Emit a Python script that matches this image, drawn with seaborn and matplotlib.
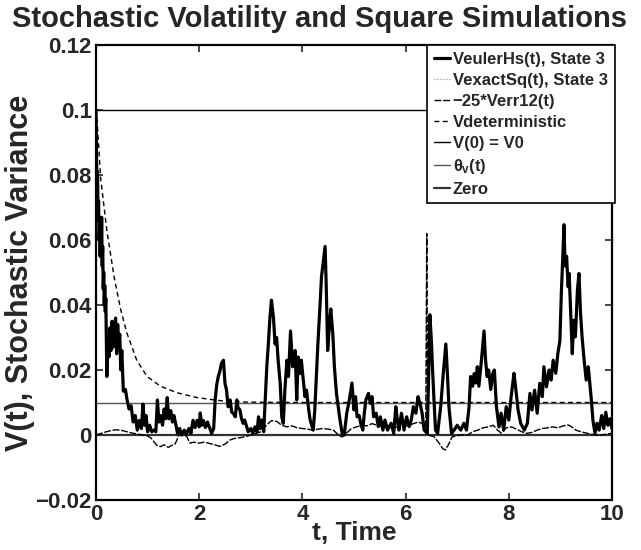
import numpy as np
import pandas as pd
import matplotlib
matplotlib.use('Agg')
import matplotlib.pyplot as plt
import seaborn as sns

#======================================================================================
# Data
# VeulerHs / VexactSq path (State 3)
tPath = [0.00, 0.01, 0.02, 0.03, 0.04, 0.05, 0.06, 0.07, 0.08, 0.09, 0.10, 0.11, 0.12, 0.13,
         0.14, 0.15, 0.16, 0.17, 0.18, 0.19, 0.21, 0.23, 0.25, 0.27, 0.29, 0.31, 0.33, 0.35,
         0.38, 0.40, 0.42, 0.44, 0.46, 0.48, 0.50, 0.53, 0.57, 0.60, 0.64, 0.68, 0.72, 0.76,
         0.80, 0.84, 0.88, 0.91, 0.94, 0.97, 1.00, 1.04, 1.08, 1.12, 1.16, 1.19, 1.22, 1.25,
         1.29, 1.32, 1.35, 1.38, 1.41, 1.45, 1.48, 1.51, 1.55, 1.58, 1.62, 1.66, 1.71, 1.75,
         1.80, 1.84, 1.88, 1.92, 1.96, 2.00, 2.02, 2.05, 2.08, 2.12, 2.16, 2.20, 2.24, 2.28,
         2.31, 2.34, 2.37, 2.40, 2.43, 2.47, 2.50, 2.53, 2.56, 2.60, 2.63, 2.66, 2.70, 2.73,
         2.75, 2.79, 2.82, 2.85, 2.88, 2.92, 2.95, 3.00, 3.04, 3.08, 3.12, 3.15, 3.18, 3.21,
         3.25, 3.28, 3.31, 3.34, 3.37, 3.40, 3.44, 3.47, 3.50, 3.53, 3.57, 3.60, 3.63, 3.66,
         3.70, 3.73, 3.77, 3.81, 3.86, 3.89, 3.92, 3.95, 3.98, 4.01, 4.05, 4.08, 4.12, 4.15,
         4.21, 4.24, 4.27, 4.30, 4.34, 4.37, 4.41, 4.44, 4.46, 4.49, 4.52, 4.55, 4.59, 4.62,
         4.66, 4.72, 4.77, 4.81, 4.86, 4.91, 4.96, 5.00, 5.03, 5.06, 5.10, 5.13, 5.17, 5.20,
         5.23, 5.28, 5.32, 5.35, 5.38, 5.43, 5.47, 5.51, 5.56, 5.60, 5.65, 5.72, 5.77, 5.81,
         5.84, 5.87, 5.92, 5.97, 6.02, 6.07, 6.11, 6.15, 6.20, 6.24, 6.28, 6.32, 6.36, 6.42,
         6.45, 6.47, 6.50, 6.52, 6.55, 6.58, 6.62, 6.68, 6.73, 6.78, 6.81, 6.84, 6.89, 6.94,
         7.00, 7.07, 7.13, 7.18, 7.23, 7.26, 7.30, 7.33, 7.36, 7.39, 7.42, 7.47, 7.52, 7.55,
         7.58, 7.61, 7.65, 7.69, 7.72, 7.76, 7.81, 7.85, 7.90, 7.95, 8.00, 8.04, 8.10, 8.13,
         8.18, 8.23, 8.30, 8.36, 8.41, 8.45, 8.50, 8.55, 8.60, 8.65, 8.68, 8.73, 8.78, 8.82,
         8.86, 8.91, 8.95, 8.99, 9.02, 9.05, 9.07, 9.09, 9.12, 9.15, 9.17, 9.20, 9.23, 9.26,
         9.29, 9.33, 9.36, 9.39, 9.42, 9.46, 9.50, 9.54, 9.57, 9.60, 9.63, 9.67, 9.71, 9.75,
         9.80, 9.84, 9.88, 9.92, 9.96, 10.00]
vPath = [0.100, 0.085, 0.078, 0.081, 0.066, 0.072, 0.060, 0.064, 0.055, 0.062, 0.058, 0.067, 0.052, 0.058,
         0.045, 0.050, 0.040, 0.046, 0.038, 0.042, 0.018, 0.030, 0.024, 0.033, 0.026, 0.035, 0.027, 0.032,
         0.036, 0.025, 0.034, 0.028, 0.031, 0.020, 0.026, 0.0135, 0.014, 0.011, 0.008, 0.009, 0.004, 0.006,
         0.0015, 0.0045, 0.002, 0.0095, 0.003, 0.006, 0.001, 0.003, 0.001, 0.0015, 0.001, 0.0108, 0.004, 0.006,
         0.003, 0.008, 0.005, 0.0115, 0.005, 0.0075, 0.004, 0.006, 0.003, 0.0005, 0.002, 0.0, 0.0015, 0.0002,
         0.002, 0.0005, 0.0045, 0.0023, 0.0045, 0.0025, 0.0068, 0.003, 0.0045, 0.0023, 0.004, 0.0023, 0.0005, 0.002,
         0.011, 0.0155, 0.018, 0.0196, 0.022, 0.023, 0.0158, 0.0138, 0.0087, 0.0108, 0.007, 0.0067, 0.0056, 0.0108,
         0.0085, 0.0077, 0.005, 0.0036, 0.0046, 0.0025, 0.001, 0.002, 0.0005, 0.0025, 0.001, 0.0056, 0.002, 0.0046,
         0.001, 0.0108, 0.021, 0.028, 0.036, 0.0415, 0.036, 0.028, 0.030, 0.023, 0.0159, 0.0056, 0.0036, 0.0138,
         0.023, 0.018, 0.032, 0.021, 0.026, 0.0108, 0.024, 0.0189, 0.023, 0.018, 0.0118, 0.0138, 0.008, 0.0046,
         0.0015, 0.0077, 0.018, 0.028, 0.0394, 0.0487, 0.054, 0.058, 0.047, 0.026, 0.033, 0.0388, 0.031, 0.021,
         0.0128, 0.0056, 0.0005, 0.0, 0.0068, 0.0108, 0.016, 0.0077, 0.0118, 0.0056, 0.006, 0.0036, 0.0015, 0.0067,
         0.0108, 0.0128, 0.0097, 0.0118, 0.0056, 0.0067, 0.0026, 0.0056, 0.0015, 0.0046, 0.0015, 0.0036, 0.0005, 0.0087,
         0.0046, 0.0015, 0.0067, 0.0015, 0.0056, 0.0026, 0.0046, 0.0087, 0.0067, 0.0118, 0.0097, 0.0067, 0.0015, 0.0005,
         0.021, 0.037, 0.0289, 0.021, 0.0108, 0.0015, 0.0005, 0.0087, 0.0189, 0.028, 0.0189, 0.0087, 0.0005, 0.0015,
         0.003, 0.0015, 0.0036, 0.0015, 0.0087, 0.018, 0.015, 0.0189, 0.016, 0.021, 0.015, 0.023, 0.032, 0.023,
         0.018, 0.020, 0.014, 0.0189, 0.020, 0.0087, 0.0025, 0.0067, 0.0015, 0.0087, 0.0046, 0.011, 0.019, 0.015,
         0.0077, 0.0036, 0.0015, 0.0036, 0.0128, 0.0077, 0.0138, 0.0067, 0.0159, 0.0118, 0.021, 0.0148, 0.020, 0.0169,
         0.023, 0.019, 0.025, 0.029, 0.0446, 0.056, 0.0647, 0.052, 0.055, 0.0456, 0.0497, 0.0374, 0.025, 0.0353,
         0.0302, 0.0446, 0.0497, 0.0374, 0.0302, 0.023, 0.0169, 0.021, 0.0159, 0.0108, 0.0046, 0.0005, 0.0036, 0.0015,
         0.006, 0.002, 0.007, 0.003, 0.005, 0.002]

# -25*Verr12(t)
tErr = [0.0, 0.1, 0.2, 0.3, 0.4, 0.5, 0.6, 0.7, 0.8, 0.9, 1.0, 1.07, 1.12, 1.18, 1.25, 1.32, 1.4,
        1.47, 1.53, 1.57, 1.6, 1.7, 1.76, 1.82, 1.9, 2.0, 2.1, 2.2, 2.3, 2.4, 2.5, 2.6, 2.7, 2.8,
        2.9, 3.0, 3.1, 3.2, 3.3, 3.4, 3.5, 3.6, 3.7, 3.8, 3.9, 4.0, 4.1, 4.2, 4.3, 4.4, 4.5, 4.6,
        4.7, 4.77, 4.85, 4.95, 5.05, 5.15, 5.25, 5.35, 5.45, 5.55, 5.65, 5.75, 5.85, 5.95, 6.05,
        6.15, 6.25, 6.32, 6.39, 6.41, 6.43, 6.55, 6.65, 6.72, 6.77, 6.83, 6.9, 7.0, 7.1, 7.2, 7.3,
        7.4, 7.5, 7.6, 7.7, 7.78, 7.85, 7.95, 8.05, 8.15, 8.25, 8.35, 8.45, 8.55, 8.65, 8.75, 8.85,
        8.95, 9.05, 9.15, 9.22, 9.3, 9.4, 9.5, 9.6, 9.7, 9.8, 9.9, 10.0]
vErr = [0.0, 0.0005, 0.001, 0.0014, 0.0016, 0.0014, 0.001, 0.0006, 0.0003, 0.0, -0.0003, -0.001,
        -0.002, -0.0032, -0.0036, -0.003, -0.0038, -0.0032, -0.0028, -0.0015, 0.0, 0.0002, -0.0005,
        -0.0025, -0.0022, -0.0025, -0.0022, -0.0026, -0.003, -0.0035, -0.0028, -0.0015, -0.001,
        -0.0008, -0.0005, 0.0, 0.0005, 0.001, 0.003, 0.0044, 0.0042, 0.003, 0.0025, 0.0028, 0.0022,
        0.002, 0.0018, 0.0015, 0.0018, 0.002, 0.0018, 0.0015, 0.0, -0.0006, 0.0005, 0.002, 0.0025,
        0.003, 0.0028, 0.0035, 0.003, 0.0025, 0.0028, 0.0022, 0.0025, 0.003, 0.0028, 0.0035, 0.004,
        0.0035, 0.001, 0.062, 0.0, -0.0005, -0.0025, -0.0042, -0.0046, -0.003, -0.0006, -0.0002, 0.0,
        0.0, 0.001, 0.0015, 0.0022, 0.0025, 0.003, 0.0015, 0.0006, 0.0022, 0.0025, 0.0018, 0.001,
        0.0005, 0.0008, 0.0015, 0.002, 0.0022, 0.0025, 0.0022, 0.0028, 0.0031, 0.0025, 0.0015, 0.001,
        0.0006, 0.0002, 0.0, 0.0, 0.0003, 0.0005]

# Vdeterministic
tDet = [0.0, 0.02, 0.09, 0.21, 0.35, 0.48, 0.60, 0.79, 0.99, 1.25, 1.57, 1.96, 2.29, 2.55, 3.0, 4.0, 10.0]
vDet = [0.1, 0.097, 0.079, 0.063, 0.0487, 0.0385, 0.0313, 0.023, 0.018, 0.015, 0.013, 0.0115, 0.0108,
        0.0103, 0.0101, 0.0100, 0.0100]

# Constant lines
tLine = [0.0, 10.0]
V0 = [0.1, 0.1]
thetaV = [0.01, 0.01]
zero = [0.0, 0.0]

xTicks = [0, 2, 4, 6, 8, 10]
yTicks = [-0.02, 0, 0.02, 0.04, 0.06, 0.08, 0.1, 0.12]
yTickLabels = ['\u22120.02', '0', '0.02', '0.04', '0.06', '0.08', '0.1', '0.12']

#======================================================================================
# Plot
sns.set_style('ticks')
plt.rcParams['font.family'] = ['Liberation Sans', 'DejaVu Sans']
plt.rcParams['font.weight'] = 'bold'
plt.rcParams['mathtext.fontset'] = 'custom'
plt.rcParams['mathtext.rm'] = 'Liberation Sans:bold'
plt.rcParams['mathtext.it'] = 'Liberation Sans:bold'
plt.rcParams['mathtext.bf'] = 'Liberation Sans:bold'

fig = plt.figure(figsize=(6.41, 5.50), dpi=100)
ax = fig.add_axes([96/641, 50/550, 516/641, 455/550])

# exact path first (dotted), Euler path drawn over it
sns.lineplot(x=tPath, y=vPath, ax=ax, color='#888888', lw=0.8, ls=':', sort=False, estimator=None,
             label='VexactSq(t), State 3', zorder=2)
sns.lineplot(x=tPath, y=vPath, ax=ax, color='black', lw=2.3, sort=False, estimator=None,
             label='VeulerHs(t), State 3', zorder=3)
sns.lineplot(x=tErr, y=vErr, ax=ax, color='black', lw=1.0, sort=False, estimator=None,
             label='\u221225*Verr12(t)', zorder=3)
ax.lines[-1].set_dashes((5, 1.2))
sns.lineplot(x=tDet, y=vDet, ax=ax, color='black', lw=1.0, sort=False, estimator=None,
             label='Vdeterministic', zorder=3)
ax.lines[-1].set_dashes((3.5, 2.5))
sns.lineplot(x=tLine, y=V0, ax=ax, color='black', lw=1.0, sort=False, estimator=None,
             label='V(0) = V0', zorder=2)
sns.lineplot(x=tLine, y=thetaV, ax=ax, color='#555555', lw=1.0, sort=False, estimator=None,
             label=r'$\theta_{v}$(t)', zorder=2)
sns.lineplot(x=tLine, y=zero, ax=ax, color='#333333', lw=1.6, sort=False, estimator=None,
             label='Zero', zorder=2)

ax.set_xlim(0, 10)
ax.set_ylim(-0.02, 0.12)
ax.set_xticks(xTicks)
ax.set_xticklabels([str(x) for x in xTicks])
ax.set_yticks(yTicks)
ax.set_yticklabels(yTickLabels)
ax.tick_params(direction='in', length=5, width=1.2, top=True, right=True,
               labelsize=16, pad=3)
for lab in ax.get_xticklabels() + ax.get_yticklabels():
    lab.set_fontweight('bold')
for s in ax.spines.values():
    s.set_visible(True)
    s.set_linewidth(1.6)
    s.set_color('black')

ax.set_xlabel('t, Time', fontsize=19, fontweight='bold', labelpad=-3)
ax.set_ylabel('V(t), Stochastic Variance', fontsize=22, fontweight='bold', labelpad=0)
fig.text(320/641, 1 - 27/550, 'Stochastic Volatility and Square Simulations',
         ha='center', va='baseline', fontsize=21, fontweight='bold')

# legend order as in the reference
handles, labels = ax.get_legend_handles_labels()
order = [1, 0, 2, 3, 4, 5, 6]
leg = ax.legend([handles[i] for i in order], [labels[i] for i in order],
                loc='upper left', bbox_to_anchor=(427/641, 1 - 45/550),
                bbox_transform=fig.transFigure, frameon=True, fancybox=False,
                edgecolor='black', framealpha=1, handlelength=1.0, handletextpad=0.15,
                borderpad=0.4, labelspacing=0.36, borderaxespad=0,
                prop={'weight': 'bold', 'size': 12})
leg.get_frame().set_linewidth(1.2)
leg.set_zorder(5)

fig.savefig('out.png', dpi=100)
